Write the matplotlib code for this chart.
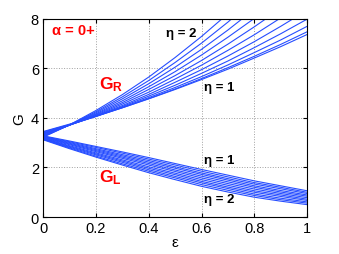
import matplotlib
matplotlib.use("Agg")
import matplotlib.pyplot as plt

plt.rcParams['font.family'] = ['Liberation Sans', 'DejaVu Sans']
plt.rcParams['mathtext.fontset'] = 'custom'
plt.rcParams['mathtext.rm'] = 'Liberation Sans'
plt.rcParams['mathtext.bf'] = 'Liberation Sans:bold'
plt.rcParams['mathtext.it'] = 'Liberation Sans:italic'

eps = [0.0, 0.1, 0.2, 0.3, 0.4, 0.5, 0.6, 0.7, 0.8, 0.9, 1.0]
eta_values = [1.0, 1.1, 1.2, 1.3, 1.4, 1.5, 1.6, 1.7, 1.8, 1.9, 2.0]

G_R = [
    [3.45, 3.75, 4.07, 4.41, 4.77, 5.15, 5.55, 5.97, 6.42, 6.88, 7.37],
    [3.43, 3.73, 4.06, 4.41, 4.78, 5.17, 5.59, 6.03, 6.49, 6.97, 7.48],
    [3.40, 3.72, 4.06, 4.43, 4.82, 5.23, 5.67, 6.14, 6.64, 7.15, 7.70],
    [3.38, 3.71, 4.07, 4.46, 4.88, 5.32, 5.80, 6.30, 6.84, 7.40, 7.99],
    [3.36, 3.71, 4.09, 4.50, 4.95, 5.44, 5.95, 6.50, 7.08, 7.70, 8.35],
    [3.34, 3.71, 4.11, 4.56, 5.04, 5.57, 6.13, 6.73, 7.36, 8.04, 8.75],
    [3.31, 3.71, 4.14, 4.62, 5.15, 5.71, 6.32, 6.98, 7.68, 8.42, 9.20],
    [3.29, 3.71, 4.17, 4.69, 5.26, 5.87, 6.54, 7.26, 8.02, 8.83, 9.70],
    [3.27, 3.71, 4.21, 4.77, 5.38, 6.05, 6.77, 7.55, 8.39, 9.28, 10.23],
    [3.24, 3.72, 4.25, 4.85, 5.51, 6.24, 7.02, 7.87, 8.79, 9.76, 10.80],
    [3.22, 3.72, 4.30, 4.94, 5.65, 6.44, 7.29, 8.21, 9.21, 10.27, 11.40],
]

G_L = [
    [3.28, 3.07, 2.85, 2.63, 2.40, 2.16, 1.92, 1.69, 1.46, 1.26, 1.06],
    [3.26, 3.04, 2.81, 2.58, 2.34, 2.10, 1.85, 1.62, 1.39, 1.20, 1.00],
    [3.25, 3.01, 2.76, 2.52, 2.28, 2.03, 1.78, 1.55, 1.33, 1.14, 0.95],
    [3.23, 2.98, 2.72, 2.47, 2.22, 1.97, 1.72, 1.49, 1.26, 1.07, 0.89],
    [3.22, 2.95, 2.68, 2.42, 2.16, 1.90, 1.65, 1.42, 1.20, 1.01, 0.84],
    [3.20, 2.92, 2.64, 2.37, 2.10, 1.84, 1.58, 1.35, 1.13, 0.95, 0.78],
    [3.18, 2.88, 2.59, 2.31, 2.03, 1.77, 1.51, 1.28, 1.06, 0.89, 0.72],
    [3.17, 2.85, 2.55, 2.26, 1.97, 1.71, 1.44, 1.21, 1.00, 0.83, 0.67],
    [3.15, 2.82, 2.51, 2.21, 1.91, 1.64, 1.38, 1.15, 0.93, 0.76, 0.61],
    [3.14, 2.79, 2.46, 2.15, 1.85, 1.58, 1.31, 1.08, 0.87, 0.70, 0.56],
    [3.12, 2.76, 2.42, 2.10, 1.79, 1.51, 1.24, 1.01, 0.80, 0.64, 0.50],
]

x_ticks = [0, 0.2, 0.4, 0.6, 0.8, 1]
x_ticklabels = ['0', '0.2', '0.4', '0.6', '0.8', '1']
y_ticks = [0, 2, 4, 6, 8]
y_ticklabels = ['0', '2', '4', '6', '8']

fig = plt.figure(figsize=(3.39, 2.55), dpi=100)
ax = fig.add_axes([0.127, 0.145, 0.779, 0.777])

line_color = (0.15, 0.3, 1.0)
for row in G_R:
    ax.plot(eps, row, color=line_color, lw=0.8)
for row in G_L:
    ax.plot(eps, row, color=line_color, lw=0.8)

ax.set_xlim(0, 1)
ax.set_ylim(0, 8)
ax.set_xticks(x_ticks)
ax.set_xticklabels(x_ticklabels)
ax.set_yticks(y_ticks)
ax.set_yticklabels(y_ticklabels)
ax.tick_params(direction='in', length=3, labelsize=10.5, top=True, right=True, pad=3)
ax.grid(True, linestyle=':', color='#a0a0a0', lw=0.7)
for s in ax.spines.values():
    s.set_linewidth(0.8)

ax.set_xlabel('ε', fontsize=11, labelpad=0)
ax.set_ylabel('G', fontsize=11, labelpad=3)

ax.text(0.035, 7.4, 'α = 0+', color='red', fontsize=10.5, fontweight='bold')
ax.text(0.21, 5.4, r'$\mathbf{G}_{\mathbf{R}}$', color='red', fontsize=12.5, va='center')
ax.text(0.21, 1.65, r'$\mathbf{G}_{\mathbf{L}}$', color='red', fontsize=12.5, va='center')
ax.text(0.465, 7.45, 'η = 2', color='black', fontsize=9.5, fontweight='bold', va='center')
ax.text(0.61, 5.25, 'η = 1', color='black', fontsize=9.5, fontweight='bold', va='center')
ax.text(0.61, 2.3, 'η = 1', color='black', fontsize=9.5, fontweight='bold', va='center')
ax.text(0.61, 0.72, 'η = 2', color='black', fontsize=9.5, fontweight='bold', va='center')

fig.savefig('out.png', dpi=100)
